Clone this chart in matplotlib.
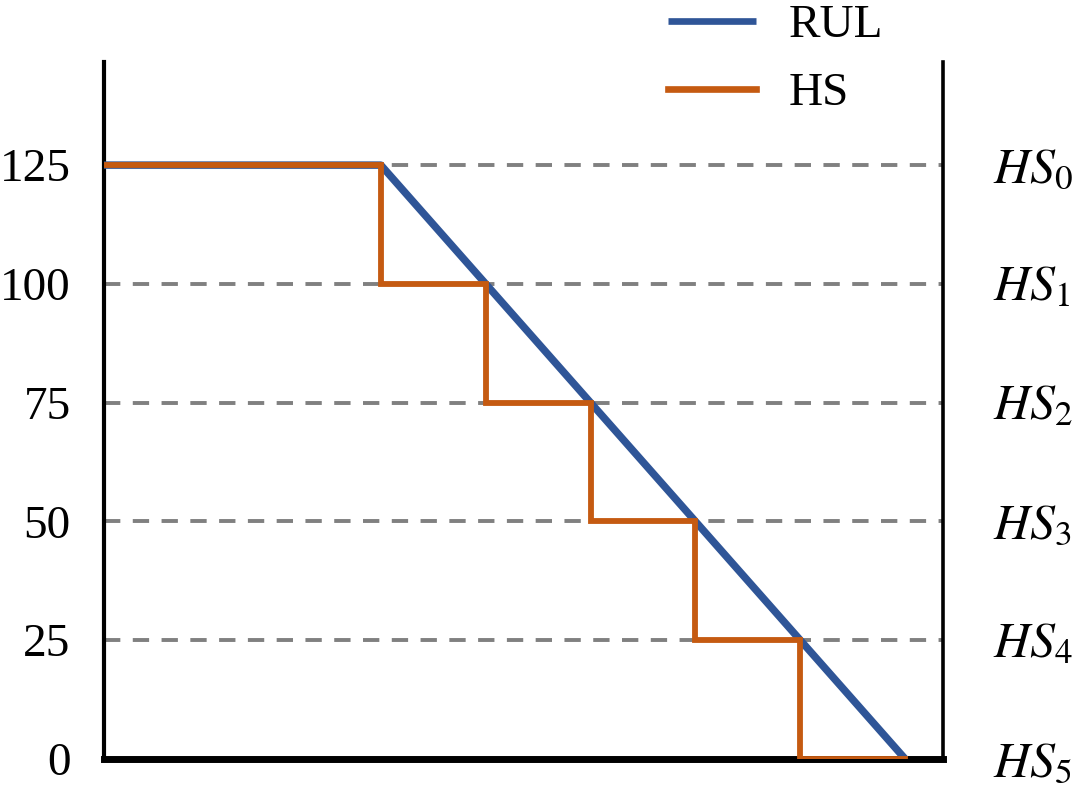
import matplotlib
matplotlib.use("Agg")
import matplotlib.pyplot as plt
import matplotlib.transforms as mtransforms

plt.rcParams['font.family'] = ['Liberation Serif', 'DejaVu Serif']
plt.rcParams['mathtext.fontset'] = 'stix'

# data (schematic: cycles vs remaining useful life)
rul_x = [0, 66, 191]
rul_y = [125, 125, 0]
hs_x = [0, 66, 91, 116, 141, 166, 191]
hs_y = [125, 100, 75, 50, 25, 0, 0]
levels = [125, 100, 75, 50, 25, 0]
level_labels = [r'$HS_0$', r'$HS_1$', r'$HS_2$', r'$HS_3$', r'$HS_4$', r'$HS_5$']
yticks = [0, 25, 50, 75, 100, 125]

blue = '#2F5597'
orange = '#C55A11'

fig = plt.figure(figsize=(10.8, 7.94), dpi=100)
ax = fig.add_axes([0.0963, 0.0441, 0.8731 - 0.0963, 0.9219 - 0.0441])

# dashed reference lines
for lv in levels[:-1]:
    ax.axhline(lv, color='#808080', lw=2.8, ls=(0, (4.2, 3.2)), zorder=1)

ax.plot(rul_x, rul_y, color=blue, lw=5.4, label='RUL', zorder=3,
        solid_capstyle='butt')
ax.plot(hs_x, hs_y, color=orange, lw=4.2, label='HS', zorder=4,
        drawstyle='steps-post', solid_joinstyle='miter')

ax.set_xlim(0, 200)
ax.set_ylim(0, 146.7)
ax.set_xticks([])
ax.set_yticks(yticks)
ax.tick_params(axis='y', length=0, pad=24, labelsize=34)

ax.spines['top'].set_visible(False)
ax.spines['left'].set_linewidth(3)
ax.spines['right'].set_linewidth(2.6)
ax.spines['bottom'].set_linewidth(5)

trans = mtransforms.blended_transform_factory(ax.transAxes, ax.transData)
for lv, lab in zip(levels, level_labels):
    ax.text(1.0596, lv - 1, lab, transform=trans, ha='left', va='center',
            fontsize=36)

leg = ax.legend(loc='upper left', bbox_to_anchor=(0.672, 1.083), frameon=False,
                fontsize=34, handlelength=1.87, handletextpad=0.68,
                labelspacing=0.53, borderaxespad=0, borderpad=0)
for line in leg.get_lines():
    line.set_linewidth(4.8)

fig.savefig('out.png', dpi=100)
